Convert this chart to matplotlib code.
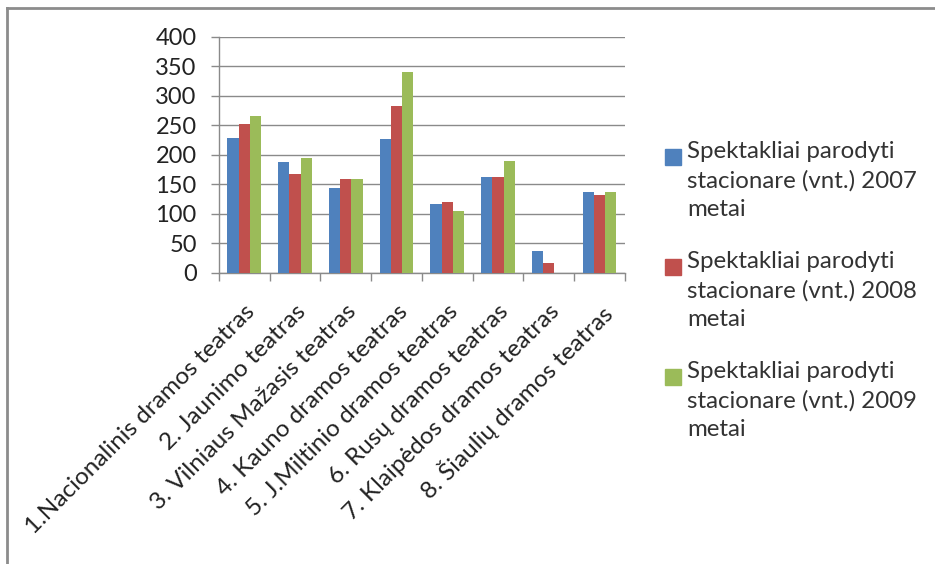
import matplotlib.pyplot as plt
import numpy as np
from matplotlib.patches import Rectangle
from matplotlib.lines import Line2D

plt.rcParams['font.family'] = ['Lato', 'DejaVu Sans']

theatres = ['1.Nacionalinis dramos teatras', '2. Jaunimo teatras',
            '3. Vilniaus Mažasis teatras', '4. Kauno dramos teatras',
            '5. J.Miltinio dramos teatras', '6. Rusų dramos teatras',
            '7. Klaipėdos dramos teatras', '8. Šiaulių dramos teatras']
y2007 = [229, 188, 144, 227, 116, 163, 36, 137]
y2008 = [252, 167, 159, 283, 120, 163, 17, 131]
y2009 = [266, 195, 159, 341, 104, 190, 0, 136]
labels = ['Spektakliai parodyti\nstacionare (vnt.) 2007\nmetai',
          'Spektakliai parodyti\nstacionare (vnt.) 2008\nmetai',
          'Spektakliai parodyti\nstacionare (vnt.) 2009\nmetai']
colors = ['#4F81BD', '#C0504D', '#9BBB59']

fig = plt.figure(figsize=(9.35, 5.64), dpi=100)
ax = fig.add_axes([0.2342, 0.5165, 0.4342, 0.4184])

x = np.arange(len(theatres))
w = 0.222
for i, vals in enumerate([y2007, y2008, y2009]):
    ax.bar(x + (i - 1) * w, vals, width=w, color=colors[i], zorder=3)

ax.set_xlim(-0.5, 7.5)
ax.set_ylim(0, 400)
ax.set_yticks(range(0, 401, 50))
ax.grid(axis='y', color='#8a8a8a', linewidth=1, zorder=0)
for s in ['top', 'right']:
    ax.spines[s].set_visible(False)
for s in ['left', 'bottom']:
    ax.spines[s].set_color('#8a8a8a')
    ax.spines[s].set_linewidth(1)

ax.tick_params(axis='y', length=6, width=1, color='#8a8a8a', pad=10,
               labelsize=17, labelcolor='#222222')
ax.set_xticks(x)
ax.set_xticklabels(theatres, rotation=45, ha='right', va='top',
                   rotation_mode='anchor', fontsize=17.5, color='#222222')
ax.tick_params(axis='x', which='major', length=0, pad=20)
ax.set_xticks(np.arange(-0.5, 8, 1), minor=True)
ax.tick_params(axis='x', which='minor', length=6, width=1, color='#8a8a8a')

# legend drawn by hand so the square lines up with the first text line
for i, lab in enumerate(labels):
    ytop = 1 - (149 + i * 110) / 564
    fig.patches.append(Rectangle((665 / 935, ytop - 16 / 564), 16 / 935, 16 / 564,
                                 transform=fig.transFigure, color=colors[i]))
    fig.text(687 / 935, 1 - (141 + i * 110) / 564, lab, fontsize=17.3,
             color='#333333', va='top', ha='left', linespacing=1.45)

# outer frame (top and left edges)
fig.add_artist(Line2D([7 / 935, 1], [1 - 8 / 564, 1 - 8 / 564],
                      transform=fig.transFigure, color='#8c8c8c', linewidth=2))
fig.add_artist(Line2D([7 / 935, 7 / 935], [0, 1 - 8 / 564],
                      transform=fig.transFigure, color='#8c8c8c', linewidth=2))

fig.savefig('out.png', dpi=100)
